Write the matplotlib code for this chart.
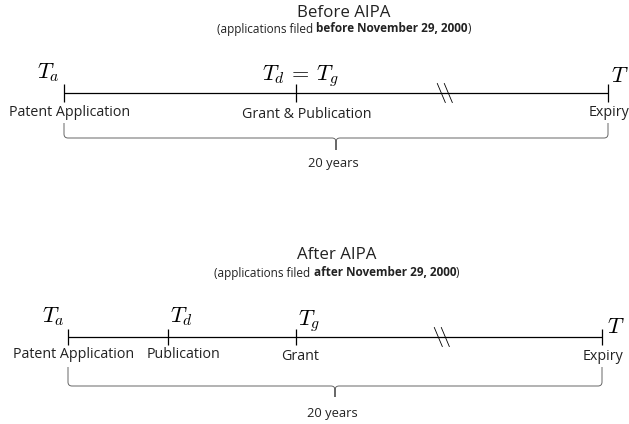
import matplotlib.pyplot as plt
import matplotlib.transforms as mtransforms
from matplotlib.path import Path
from matplotlib.patches import PathPatch

plt.rcParams['font.family'] = ['Open Sans', 'DejaVu Sans']
plt.rcParams['mathtext.fontset'] = 'cm'

# data: events along each timeline, position as fraction of the drawn line
before_title = "Before AIPA"
before_when = "before November 29, 2000"
before_events = ["Patent Application", "Grant & Publication", "Expiry"]
before_symbols = [r"$T_a$", r"$T_d\,=\,T_g$", r"$T$"]
before_pos = [0.0, 0.4265, 1.0]

after_title = "After AIPA"
after_when = "after November 29, 2000"
after_events = ["Patent Application", "Publication", "Grant", "Expiry"]
after_symbols = [r"$T_a$", r"$T_d$", r"$T_g$", r"$T$"]
after_pos = [0.0, 0.187, 0.427, 1.0]

break_pos = 0.70
span_label = "20 years"

W, H = 629, 424
fig = plt.figure(figsize=(W / 100, H / 100), dpi=100)
renderer = fig.canvas.get_renderer()


def offset(ax, dx, dy):
    # shift in pixels (y down positive, like the picture)
    return mtransforms.offset_copy(ax.transData, fig=fig, x=dx, y=-dy, units='dots')


def draw_timeline(title, when, events, symbols, pos, lay):
    x0, x1 = lay['line_x']
    L = x1 - x0
    ax = fig.add_axes([0, 0, 1, 1])
    ax.set_xlim(-x0 / L, (W - x0) / L)
    ax.set_ylim(H, 0)
    ax.axis('off')
    ax.patch.set_alpha(0)

    ly = lay['line_y']
    # main line and ticks
    ax.plot([pos[0], pos[-1]], [ly, ly], color='black', lw=0.9, solid_capstyle='butt')
    ax.vlines(pos, ly - lay['tick'], ly + lay['tick'], color='black', lw=0.9)

    # break mark
    for sx in (-3.5, 3.5):
        ax.plot([break_pos + (sx - 4) / L, break_pos + (sx + 4) / L],
                [ly - 9.5, ly + 9.5], color='black', lw=0.6)

    # symbols above the ticks
    for p, s, (dx, by, ha) in zip(pos, symbols, lay['sym']):
        ax.text(p, by, s, fontsize=16, ha=ha, va='baseline',
                transform=offset(ax, dx, 0))

    # event names below
    for p, e, (dx, cy) in zip(pos, events, lay['lab']):
        ax.text(p, cy, e, fontsize=10.3, ha='center', va='center',
                color='#222222', transform=offset(ax, dx, 0))

    # titles
    xc = 0.5 * (pos[0] + pos[-1])
    ax.text(xc, lay['title_y'], title, fontsize=12.2, ha='center', va='center',
            color='#222222', transform=offset(ax, lay['title_dx'], 0))
    parts = [("(applications filed ", 'normal'), (when, 'bold'), (")", 'normal')]
    widths = []
    for s, w in parts:
        t = ax.text(0, 0, s, fontsize=8.5, fontweight=w)
        widths.append(t.get_window_extent(renderer).width)
        t.remove()
    cur = lay['title_dx'] - sum(widths) / 2
    for (s, w), wd in zip(parts, widths):
        ax.text(xc, lay['sub_y'], s, fontsize=8.5, fontweight=w, ha='left',
                va='center', color='#222222', transform=offset(ax, cur, 0))
        cur += wd

    # brace from first to last event
    xl, xr = pos[0], pos[-1]
    yt, yh, yp = lay['brace']
    r = 4.0
    ru = r / L
    verts = [(xl, yt), (xl, yh - r), (xl, yh), (xl + ru, yh),
             (xc - ru, yh), (xc, yh), (xc, yh + r), (xc, yp),
             (xc, yh + r), (xc, yh), (xc + ru, yh),
             (xr - ru, yh), (xr, yh), (xr, yh - r), (xr, yt)]
    codes = [Path.MOVETO, Path.LINETO, Path.CURVE3, Path.CURVE3,
             Path.LINETO, Path.CURVE3, Path.CURVE3, Path.LINETO,
             Path.LINETO, Path.CURVE3, Path.CURVE3,
             Path.LINETO, Path.CURVE3, Path.CURVE3, Path.LINETO]
    ax.add_patch(PathPatch(Path(verts, codes), fill=False, edgecolor='#666666', lw=0.7))
    ax.text(xc, lay['span_y'], span_label, fontsize=9.3, ha='center', va='center',
            color='#222222', transform=offset(ax, -3, 0))


top_layout = dict(line_x=(64, 608), line_y=93, tick=9, title_y=13, sub_y=29, title_dx=8,
                  sym=[(-4, 78, 'right'), (4, 80, 'center'), (3, 82, 'left')],
                  lab=[(6, 112), (11, 115), (1, 112)],
                  brace=(123, 138, 150), span_y=163)
bottom_layout = dict(line_x=(68, 602), line_y=337, tick=8, title_y=255, sub_y=273, title_dx=2,
                     sym=[(-3, 322, 'right'), (2, 322, 'left'), (2, 325, 'left'), (5, 333, 'left')],
                     lab=[(6, 355), (16, 355), (4, 357), (1, 357)],
                     brace=(367, 386, 397), span_y=413)

draw_timeline(before_title, before_when, before_events, before_symbols, before_pos, top_layout)
draw_timeline(after_title, after_when, after_events, after_symbols, after_pos, bottom_layout)

fig.savefig('out.png', dpi=100)
